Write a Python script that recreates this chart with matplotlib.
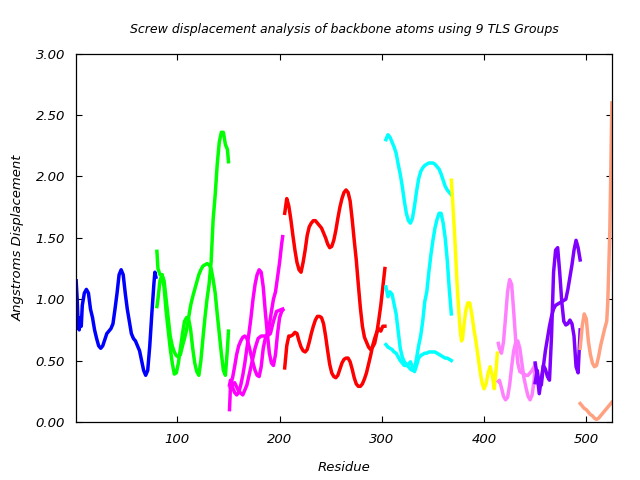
import matplotlib
matplotlib.use('Agg')
import matplotlib.pyplot as plt

# ---- data (residue, displacement in Angstrom) ----
blue_res = [1, 2, 3, 4, 5, 6, 7, 9, 11, 13, 15, 17, 19, 21, 23, 25, 27, 29, 31, 33, 35, 37, 39,
            41, 43, 45, 47, 49, 51, 53, 55, 57, 59, 61, 63, 65, 67, 69, 71, 73, 75, 77, 78, 79]
blue_a = [1.15, 1.0, 0.78, 0.75, 0.85, 0.78, 0.95, 1.05, 1.08, 1.05, 0.92, 0.85, 0.75, 0.68, 0.62,
          0.60, 0.62, 0.67, 0.72, 0.74, 0.76, 0.80, 0.92, 1.05, 1.20, 1.24, 1.20, 1.05, 0.92, 0.82,
          0.72, 0.68, 0.66, 0.62, 0.58, 0.50, 0.42, 0.38, 0.42, 0.62, 0.88, 1.12, 1.22, 1.18]

green_res = [80, 81, 83, 85, 87, 89, 91, 93, 95, 97, 99, 101, 103, 105, 107, 109, 111, 113, 115,
             117, 119, 121, 123, 125, 127, 129, 131, 133, 135, 137, 139, 141, 143, 145, 147, 149, 150]
green_a = [0.94, 1.0, 1.15, 1.2, 1.1, 0.9, 0.75, 0.6, 0.48, 0.39, 0.4, 0.48, 0.6, 0.72, 0.82, 0.85,
           0.84, 0.75, 0.6, 0.48, 0.41, 0.38, 0.5, 0.68, 0.85, 1.0, 1.12, 1.3, 1.65, 1.85, 2.1, 2.28,
           2.36, 2.36, 2.26, 2.22, 2.12]
green_b = [1.39, 1.25, 1.2, 1.2, 1.15, 1.0, 0.85, 0.7, 0.62, 0.57, 0.54, 0.53, 0.55, 0.62, 0.68, 0.75,
           0.85, 0.95, 1.02, 1.08, 1.14, 1.2, 1.24, 1.27, 1.28, 1.29, 1.28, 1.25, 1.16, 1.05, 0.88,
           0.72, 0.56, 0.42, 0.38, 0.6, 0.74]

mag_res = [151, 152, 154, 156, 158, 160, 162, 164, 166, 168, 170, 172, 174, 176, 178, 180, 182,
           184, 186, 188, 190, 192, 194, 196, 198, 200, 202, 203]
mag_a = [0.10, 0.30, 0.36, 0.45, 0.55, 0.62, 0.66, 0.69, 0.70, 0.68, 0.62, 0.55, 0.48, 0.42, 0.38,
         0.37, 0.45, 0.60, 0.68, 0.72, 0.79, 0.90, 1.0, 1.06, 1.18, 1.30, 1.45, 1.51]
mag_b = [0.30, 0.34, 0.28, 0.24, 0.22, 0.24, 0.30, 0.38, 0.48, 0.60, 0.72, 0.85, 1.0, 1.12, 1.20,
         1.24, 1.22, 1.10, 0.90, 0.72, 0.56, 0.48, 0.46, 0.55, 0.72, 0.85, 0.90, 0.91]
mag_c_res = [152, 156, 160, 164, 168, 172, 176, 179, 182, 185, 188, 191, 194, 197, 200, 203]
mag_c = [0.28, 0.32, 0.25, 0.22, 0.30, 0.45, 0.60, 0.68, 0.70, 0.70, 0.70, 0.72, 0.82, 0.90, 0.91, 0.92]

red_res = list(range(205, 304, 2))
red_a = [1.70, 1.82, 1.76, 1.65, 1.52, 1.40, 1.30, 1.24, 1.22, 1.30, 1.40, 1.52, 1.59, 1.62, 1.64,
         1.64, 1.62, 1.60, 1.58, 1.54, 1.50, 1.45, 1.42, 1.43, 1.48, 1.56, 1.66, 1.75, 1.82, 1.87,
         1.89, 1.87, 1.80, 1.65, 1.48, 1.32, 1.12, 0.93, 0.78, 0.69, 0.65, 0.61, 0.59, 0.61, 0.64,
         0.72, 0.83, 0.95, 1.10, 1.25]
red_b = [0.44, 0.62, 0.70, 0.70, 0.71, 0.73, 0.72, 0.66, 0.61, 0.58, 0.57, 0.59, 0.65, 0.72, 0.78,
         0.83, 0.86, 0.86, 0.85, 0.80, 0.70, 0.58, 0.47, 0.40, 0.37, 0.36, 0.38, 0.43, 0.48, 0.51,
         0.52, 0.52, 0.49, 0.43, 0.36, 0.31, 0.29, 0.29, 0.31, 0.35, 0.40, 0.47, 0.54, 0.62, 0.68,
         0.73, 0.76, 0.74, 0.78, 0.78]

cyan_res = list(range(304, 369, 2))
cyan_a = [2.30, 2.34, 2.32, 2.28, 2.24, 2.19, 2.10, 2.02, 1.92, 1.80, 1.70, 1.64, 1.62, 1.66, 1.76,
          1.88, 1.98, 2.04, 2.07, 2.09, 2.10, 2.11, 2.11, 2.11, 2.10, 2.08, 2.06, 2.02, 1.97, 1.92,
          1.89, 1.87, 1.85]
cyan_b = [1.10, 1.02, 1.06, 1.04, 0.96, 0.88, 0.74, 0.60, 0.53, 0.49, 0.47, 0.45, 0.43, 0.42, 0.43,
          0.52, 0.62, 0.70, 0.82, 0.98, 1.06, 1.22, 1.36, 1.48, 1.58, 1.65, 1.70, 1.70, 1.62, 1.50,
          1.32, 1.08, 0.88]
cyan_c = [0.63, 0.61, 0.60, 0.59, 0.57, 0.56, 0.53, 0.50, 0.48, 0.46, 0.46, 0.47, 0.49, 0.45, 0.41,
          0.46, 0.52, 0.54, 0.55, 0.56, 0.56, 0.57, 0.57, 0.57, 0.57, 0.56, 0.55, 0.54, 0.53, 0.52,
          0.52, 0.51, 0.50]

yellow_res = [368, 369, 370, 371, 372, 373, 374, 375, 376, 377, 378, 379, 380, 382, 384, 386, 388,
              390, 392, 394, 396, 398, 400, 402, 404, 406, 408, 410, 412, 413]
yellow_a = [1.97, 1.84, 1.70, 1.56, 1.40, 1.22, 1.07, 0.94, 0.82, 0.72, 0.66, 0.68, 0.76, 0.90, 0.97,
            0.97, 0.88, 0.76, 0.66, 0.54, 0.42, 0.32, 0.27, 0.31, 0.40, 0.45, 0.38, 0.27, 0.45, 0.56]

pink_res = [414, 415, 417, 419, 421, 423, 425, 427, 429, 431, 433, 435, 437, 439, 441, 443, 445,
            447, 449, 450]
pink_a = [0.64, 0.60, 0.56, 0.65, 0.85, 1.06, 1.16, 1.12, 0.90, 0.66, 0.48, 0.41, 0.40, 0.39, 0.38,
          0.38, 0.40, 0.42, 0.45, 0.47]
pink_b = [0.33, 0.34, 0.28, 0.21, 0.18, 0.20, 0.30, 0.45, 0.58, 0.65, 0.66, 0.60, 0.48, 0.36, 0.28,
          0.21, 0.18, 0.22, 0.34, 0.46]

purple_res = list(range(450, 495, 2))
purple_a = [0.48, 0.38, 0.23, 0.35, 0.46, 0.43, 0.37, 0.34, 0.70, 1.22, 1.40, 1.42, 1.22, 0.98, 0.82,
            0.79, 0.80, 0.83, 0.80, 0.70, 0.45, 0.40, 0.75]
purple_b = [0.32, 0.42, 0.30, 0.30, 0.45, 0.58, 0.68, 0.78, 0.86, 0.92, 0.95, 0.96, 0.97, 0.98, 0.99,
            1.0, 1.08, 1.18, 1.28, 1.40, 1.48, 1.42, 1.32]

salmon_res = [494, 496, 498, 500, 502, 504, 506, 508, 510, 512, 514, 516, 518, 520, 521, 522, 523,
              524, 525]
salmon_a = [0.60, 0.78, 0.88, 0.84, 0.66, 0.55, 0.48, 0.45, 0.46, 0.53, 0.62, 0.69, 0.76, 0.82, 0.97,
            1.25, 1.55, 2.05, 2.60]
salmon_b = [0.15, 0.13, 0.11, 0.10, 0.08, 0.06, 0.05, 0.03, 0.02, 0.03, 0.05, 0.07, 0.09, 0.11, 0.12,
            0.13, 0.14, 0.15, 0.16]

x_ticks = [100, 200, 300, 400, 500]
y_ticks = [0.0, 0.5, 1.0, 1.5, 2.0, 2.5, 3.0]

fig = plt.figure(figsize=(6.4, 4.8), dpi=100)
ax = fig.add_axes([0.119, 0.121, 0.837, 0.767])

lw = 2.5
ax.plot(blue_res, blue_a, color='#0000ff', lw=lw)
ax.plot(green_res, green_a, color='#00ff00', lw=lw)
ax.plot(green_res, green_b, color='#00ff00', lw=lw)
ax.plot(mag_res, mag_a, color='#ff00ff', lw=lw)
ax.plot(mag_res, mag_b, color='#ff00ff', lw=lw)
ax.plot(mag_c_res, mag_c, color='#ff00ff', lw=lw)
ax.plot(red_res, red_a, color='#ff0000', lw=lw)
ax.plot(red_res, red_b, color='#ff0000', lw=lw)
ax.plot(cyan_res, cyan_a, color='#00ffff', lw=lw)
ax.plot(cyan_res, cyan_b, color='#00ffff', lw=lw)
ax.plot(cyan_res, cyan_c, color='#00ffff', lw=lw)
ax.plot(yellow_res, yellow_a, color='#ffff00', lw=lw)
ax.plot(pink_res, pink_a, color='#ff80ff', lw=lw)
ax.plot(pink_res, pink_b, color='#ff80ff', lw=lw)
ax.plot(purple_res, purple_a, color='#8000ff', lw=lw)
ax.plot(purple_res, purple_b, color='#8000ff', lw=lw)
ax.plot(salmon_res, salmon_a, color='#ffa080', lw=lw)
ax.plot(salmon_res, salmon_b, color='#ffa080', lw=lw)

ax.set_xlim(1, 525)
ax.set_ylim(0, 3)
ax.set_xticks(x_ticks)
ax.set_yticks(y_ticks)
ax.set_yticklabels([f'{v:.2f}' for v in y_ticks])
ax.tick_params(direction='in', top=True, right=True, length=4, width=0.8,
               labelsize=9.5, pad=8)
for lab in ax.get_xticklabels() + ax.get_yticklabels():
    lab.set_fontstyle('italic')
for sp in ax.spines.values():
    sp.set_linewidth(0.9)

ax.set_xlabel('Residue', fontsize=9.5, style='italic', labelpad=11)
ax.set_ylabel('Angstroms Displacement', fontsize=9.5, style='italic', labelpad=8)
ax.set_title('Screw displacement analysis of backbone atoms using 9 TLS Groups',
             fontsize=9, style='italic', pad=15)

fig.savefig('out.png', dpi=100)
